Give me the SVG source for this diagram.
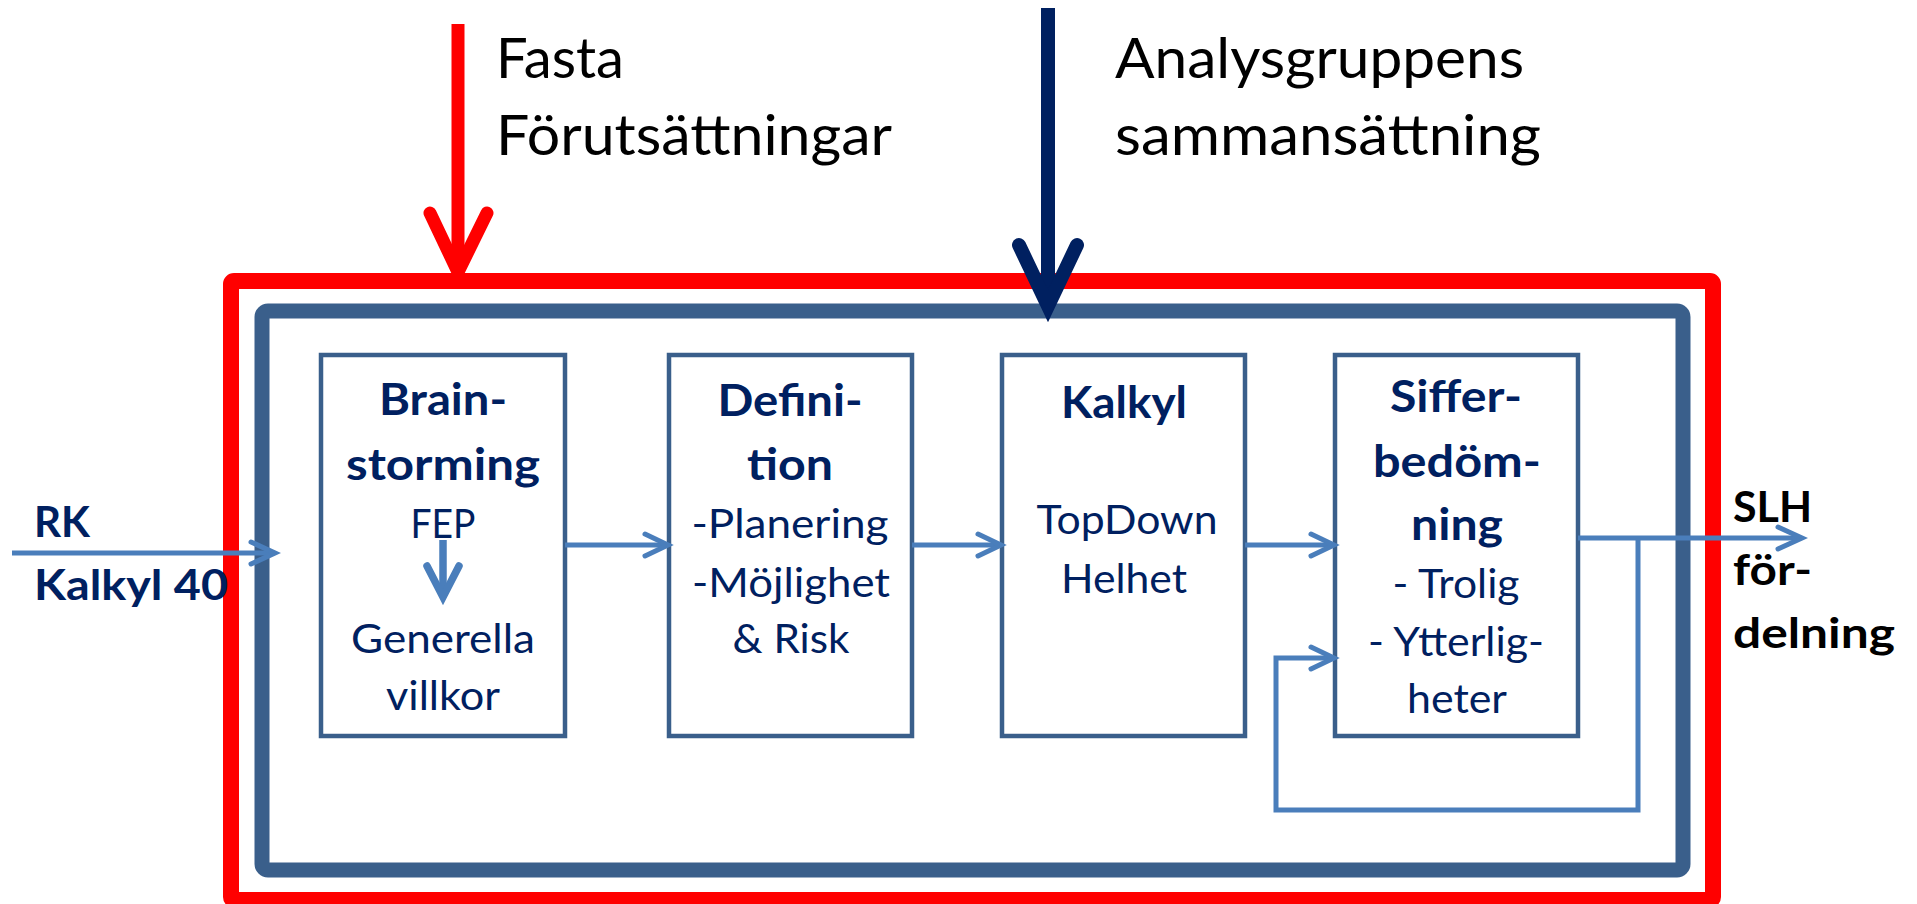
<svg xmlns="http://www.w3.org/2000/svg" width="1917" height="904" viewBox="0 0 1917 904">
<defs>
<style>
.t{font-family:Lato,"Open Sans","Liberation Sans",sans-serif;}
.title{font-size:43px;font-weight:bold;fill:#002060;text-anchor:middle;}
.body{font-size:41px;fill:#002060;text-anchor:middle;}
.top{font-size:57px;fill:#000;}
.side{font-size:42px;font-weight:bold;}
.box{fill:#fff;stroke:#3A5F8B;stroke-width:4.5;}
.con{fill:none;stroke:#4A7EBB;stroke-width:5;stroke-linecap:round;stroke-linejoin:miter;}
.ln{fill:none;stroke:#4A7EBB;stroke-width:5;stroke-linecap:butt;}
</style>
</defs>
<rect width="1917" height="904" fill="#fff"/>
<g id="frame-outer"><rect x="231" y="281" width="1482" height="619" rx="3" fill="none" stroke="#FF0000" stroke-width="16"/></g>
<g id="frame-inner"><rect x="262" y="311" width="1421" height="559" rx="6" fill="none" stroke="#3A5F8B" stroke-width="15"/></g>

<g id="box1">
<rect class="box" x="321" y="355" width="244" height="381"/>
<text class="t title" x="443" y="415" textLength="128" lengthAdjust="spacingAndGlyphs">Brain-</text>
<text class="t title" x="443" y="480" textLength="194" lengthAdjust="spacingAndGlyphs">storming</text>
<text class="t body" x="443" y="538" textLength="65" lengthAdjust="spacingAndGlyphs">FEP</text>
<text class="t body" x="443" y="653" textLength="184" lengthAdjust="spacingAndGlyphs">Generella</text>
<text class="t body" x="443" y="710" textLength="114" lengthAdjust="spacingAndGlyphs">villkor</text>
</g>
<g id="box2">
<rect class="box" x="669" y="355" width="243" height="381"/>
<text class="t title" x="790" y="416" textLength="145" lengthAdjust="spacingAndGlyphs">Defini-</text>
<text class="t title" x="790" y="480" textLength="86" lengthAdjust="spacingAndGlyphs">tion</text>
<text class="t body" x="790" y="538" textLength="197" lengthAdjust="spacingAndGlyphs">-Planering</text>
<text class="t body" x="791" y="597" textLength="198" lengthAdjust="spacingAndGlyphs">-Möjlighet</text>
<text class="t body" x="791" y="653" textLength="117" lengthAdjust="spacingAndGlyphs">&amp; Risk</text>
</g>
<g id="box3">
<rect class="box" x="1002" y="355" width="243" height="381"/>
<text class="t title" x="1124" y="418" textLength="126" lengthAdjust="spacingAndGlyphs">Kalkyl</text>
<text class="t body" x="1127" y="534" textLength="181" lengthAdjust="spacingAndGlyphs">TopDown</text>
<text class="t body" x="1124" y="593" textLength="126" lengthAdjust="spacingAndGlyphs">Helhet</text>
</g>
<g id="box4">
<rect class="box" x="1335" y="355" width="243" height="381"/>
<text class="t title" x="1456" y="412" textLength="132" lengthAdjust="spacingAndGlyphs">Siffer-</text>
<text class="t title" x="1457" y="477" textLength="168" lengthAdjust="spacingAndGlyphs">bedöm-</text>
<text class="t title" x="1457" y="540" textLength="92" lengthAdjust="spacingAndGlyphs">ning</text>
<text class="t body" x="1456" y="598" textLength="127" lengthAdjust="spacingAndGlyphs">- Trolig</text>
<text class="t body" x="1456" y="656" textLength="176" lengthAdjust="spacingAndGlyphs">- Ytterlig-</text>
<text class="t body" x="1457" y="713" textLength="100" lengthAdjust="spacingAndGlyphs">heter</text>
</g>

<g id="label-fasta">
<text class="t top" x="496" y="78" textLength="128" lengthAdjust="spacingAndGlyphs">Fasta</text>
<text class="t top" x="496" y="155" textLength="396" lengthAdjust="spacingAndGlyphs">Förutsättningar</text>
</g>
<g id="label-analys">
<text class="t top" x="1115" y="78" textLength="409" lengthAdjust="spacingAndGlyphs">Analysgruppens</text>
<text class="t top" x="1115" y="155" textLength="426" lengthAdjust="spacingAndGlyphs">sammansättning</text>
</g>
<g id="label-rk">
<text class="t side" x="34" y="537" fill="#002060" textLength="56" lengthAdjust="spacingAndGlyphs">RK</text>
<text class="t side" x="34" y="600" fill="#002060" textLength="194" lengthAdjust="spacingAndGlyphs">Kalkyl 40</text>
</g>
<g id="label-slh">
<text class="t side" x="1733" y="522" fill="#000" textLength="79" lengthAdjust="spacingAndGlyphs">SLH</text>
<text class="t side" x="1733" y="585" fill="#000" textLength="79" lengthAdjust="spacingAndGlyphs">för-</text>
<text class="t side" x="1733" y="648" fill="#000" textLength="162" lengthAdjust="spacingAndGlyphs">delning</text>
</g>

<g id="connectors">
<line x1="458" y1="24" x2="458" y2="268" stroke="#FF0000" stroke-width="13"/>
<polyline points="430,213 458,272 487,213" fill="none" stroke="#FF0000" stroke-width="13" stroke-linecap="round" stroke-linejoin="miter"/>
<line x1="1048" y1="8" x2="1048" y2="300" stroke="#002060" stroke-width="14"/>
<polyline points="1019,245 1048,306 1077,245" fill="none" stroke="#002060" stroke-width="14" stroke-linecap="round" stroke-linejoin="miter"/>
<line class="ln" x1="12" y1="553" x2="272" y2="553"/>
<polyline class="con" points="251,542 275,553 251,564"/>
<line class="ln" x1="443" y1="540" x2="443" y2="592" style="stroke-width:7.5"/>
<polyline class="con" points="427,566 443,597 459,566" style="stroke-width:7.5"/>
<line class="ln" x1="565" y1="545" x2="666" y2="545"/>
<polyline class="con" points="645,534 668,545 645,556"/>
<line class="ln" x1="912" y1="545" x2="999" y2="545"/>
<polyline class="con" points="978,534 1001,545 978,556"/>
<line class="ln" x1="1245" y1="545" x2="1332" y2="545"/>
<polyline class="con" points="1311,534 1334,545 1311,556"/>
<line class="ln" x1="1578" y1="538" x2="1800" y2="538"/>
<polyline class="con" points="1778,527 1802,538 1778,549"/>
<polyline class="ln" points="1638,538 1638,810 1276,810 1276,658 1332,658"/>
<polyline class="con" points="1311,647 1334,658 1311,669"/>
</g>
</svg>
